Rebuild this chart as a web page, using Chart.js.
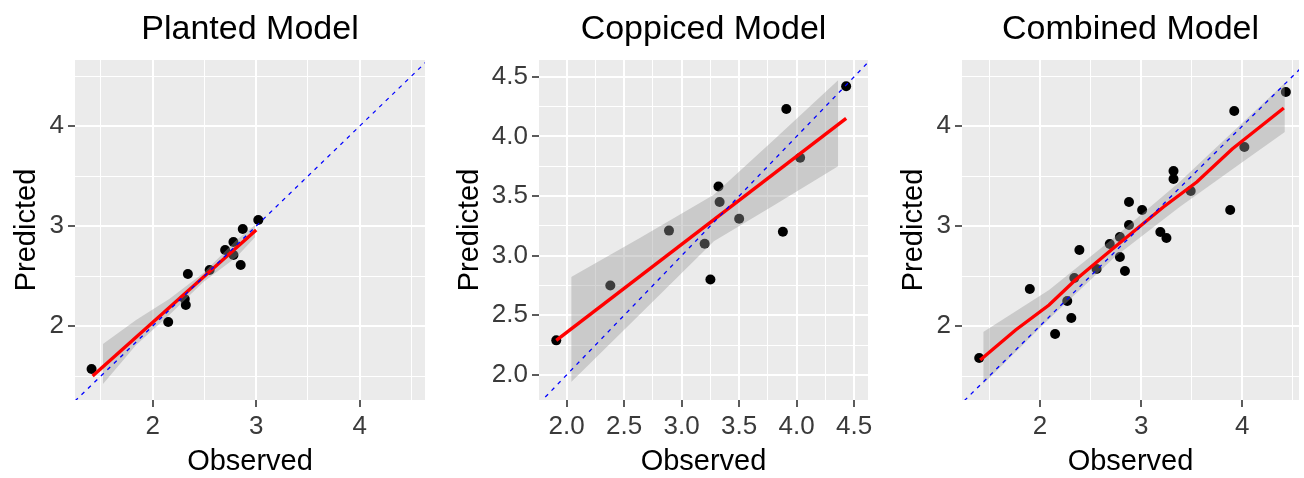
<!DOCTYPE html>
<html>
<head>
<meta charset="utf-8">
<script src="https://cdn.jsdelivr.net/npm/chart.js@4.4.1/dist/chart.umd.min.js"></script>
<style>
  body { margin: 0; background: #fff; }
  .panel { position: absolute; top: 0; }
  canvas { display: block; }
</style>
</head>
<body>
<div class="panel" style="left:0px"><canvas id="planted" width="443" height="478"></canvas></div>
<div class="panel" style="left:443px"><canvas id="coppiced" width="444" height="478"></canvas></div>
<div class="panel" style="left:887px"><canvas id="combined" width="417" height="478"></canvas></div>
<script>
// values
const plantedObserved  = [1.41, 2.15, 2.31, 2.32, 2.34, 2.55, 2.70, 2.78, 2.78, 2.85, 2.87, 3.02];
const plantedPredicted = [1.57, 2.04, 2.27, 2.21, 2.52, 2.56, 2.76, 2.84, 2.71, 2.61, 2.97, 3.06];
const plantedFitX = [1.42, 3.00];
const plantedFitY = [1.50, 2.96];
const plantedBandX    = [1.52, 1.84, 2.16, 2.49, 2.81, 2.99];
const plantedBandLow  = [1.42, 1.81, 2.11, 2.44, 2.69, 2.89];
const plantedBandHigh = [1.82, 2.06, 2.27, 2.53, 2.86, 3.01];

const coppicedObserved  = [1.91, 2.38, 2.89, 3.20, 3.25, 3.32, 3.33, 3.50, 3.88, 3.91, 4.03, 4.43];
const coppicedPredicted = [2.29, 2.75, 3.21, 3.10, 2.80, 3.58, 3.45, 3.31, 3.20, 4.23, 3.82, 4.42];
const coppicedFitX = [1.91, 4.43];
const coppicedFitY = [2.29, 4.15];
const coppicedBandX    = [2.04, 2.64, 3.28, 3.80, 4.36];
const coppicedBandLow  = [1.94, 2.51, 3.12, 3.42, 3.75];
const coppicedBandHigh = [2.82, 3.15, 3.51, 3.97, 4.47];

const combinedObserved  = [1.40, 1.90, 2.15, 2.27, 2.31, 2.34, 2.39, 2.56, 2.69, 2.79, 2.79, 2.84,
                           2.88, 2.88, 3.01, 3.19, 3.25, 3.32, 3.32, 3.49, 3.88, 3.92, 4.02, 4.43];
const combinedPredicted = [1.68, 2.37, 1.92, 2.25, 2.08, 2.48, 2.76, 2.57, 2.82, 2.89, 2.69, 2.55,
                           3.01, 3.24, 3.16, 2.94, 2.88, 3.55, 3.47, 3.35, 3.16, 4.15, 3.79, 4.34];
const combinedFitX = [1.41, 1.76, 2.09, 2.35, 2.74, 3.22, 3.55, 3.90, 4.41];
const combinedFitY = [1.66, 1.96, 2.21, 2.46, 2.79, 3.19, 3.44, 3.77, 4.18];
const combinedBandX    = [1.44, 2.09, 2.74, 3.38, 4.03, 4.42];
const combinedBandLow  = [1.42, 2.07, 2.69, 3.19, 3.66, 3.94];
const combinedBandHigh = [1.94, 2.36, 2.89, 3.44, 4.06, 4.43];

const identityLine = [1, 5];

// tick labels and axis limits
const wholeTicks = [2, 3, 4];
const wholeMinorTicks = [1.5, 2.5, 3.5, 4.5];
const halfTicks = [2.0, 2.5, 3.0, 3.5, 4.0, 4.5];
const halfMinorTicks = [1.75, 2.25, 2.75, 3.25, 3.75, 4.25];
const plantedLimitsX = [1.25, 4.63], plantedLimitsY = [1.26, 4.66];
const coppicedLimitsX = [1.76, 4.62], coppicedLimitsY = [1.79, 4.64];
const combinedLimitsX = [1.23, 4.56], combinedLimitsY = [1.26, 4.66];

Chart.defaults.font.family = '"Liberation Sans", Arial, sans-serif';

const zip = (xs, ys) => xs.map((x, i) => ({ x, y: ys[i] }));

const panelBackground = {
    id: 'panelBackground',
    beforeDraw(chart) {
        const { ctx, chartArea: a } = chart;
        ctx.save();
        ctx.fillStyle = '#EBEBEB';
        ctx.fillRect(a.left, a.top, a.right - a.left, a.bottom - a.top);
        ctx.restore();
    }
};

function axis(limits, major, minor, digits, title, fitSize, horizontal) {
    const isMajor = v => major.includes(v);
    return {
        type: 'linear',
        min: limits[0],
        max: limits[1],
        afterBuildTicks: scale => {
            scale.ticks = major.concat(minor)
                .filter(v => v >= limits[0] && v <= limits[1])
                .sort((a, b) => a - b)
                .map(value => ({ value }));
        },
        afterFit: scale => {
            if (horizontal) scale.height = fitSize; else scale.width = fitSize;
        },
        border: { display: false },
        grid: {
            color: '#FFFFFF',
            lineWidth: c => (c.tick && isMajor(c.tick.value) ? 2 : 1),
            tickColor: c => (c.tick && isMajor(c.tick.value) ? '#333333' : 'rgba(0,0,0,0)'),
            tickLength: 7,
            tickWidth: 1.6
        },
        ticks: {
            autoSkip: false,
            maxRotation: 0,
            color: '#3A3A3A',
            font: { size: 26 },
            padding: horizontal ? 4 : 4,
            callback: v => (isMajor(v) ? v.toFixed(digits) : '')
        },
        title: {
            display: true,
            text: title,
            color: '#000000',
            font: { size: 29, lineHeight: 1.1 },
            padding: horizontal ? { top: 0, bottom: 0 } : { top: 11, bottom: 0 }
        }
    };
}

function makePanel(id, p) {
    const ctx = document.getElementById(id).getContext('2d');
    return new Chart(ctx, {
        type: 'scatter',
        data: {
            datasets: [
                {
                    type: 'line', data: zip(identityLine, identityLine),
                    borderColor: '#0000FF', borderWidth: 1.3, borderDash: [4, 5],
                    pointRadius: 0, fill: false, order: 0
                },
                {
                    type: 'line', data: zip(p.fitX, p.fitY),
                    borderColor: '#FF0000', borderWidth: 3.4,
                    pointRadius: 0, fill: false, order: 1
                },
                {
                    type: 'line', data: zip(p.bandX, p.bandHigh),
                    borderWidth: 0, borderColor: 'rgba(0,0,0,0)', pointRadius: 0,
                    fill: '+1', backgroundColor: 'rgba(153,153,153,0.4)', order: 2
                },
                {
                    type: 'line', data: zip(p.bandX, p.bandLow),
                    borderWidth: 0, borderColor: 'rgba(0,0,0,0)', pointRadius: 0,
                    fill: false, order: 2
                },
                {
                    type: 'scatter', data: zip(p.observed, p.predicted),
                    backgroundColor: '#000000', borderWidth: 0,
                    pointRadius: 5, order: 3
                }
            ]
        },
        options: {
            responsive: false,
            animation: false,
            events: [],
            layout: { padding: { left: 0, right: p.rightPad, top: 0, bottom: 0 } },
            plugins: {
                legend: { display: false },
                tooltip: { enabled: false },
                title: {
                    display: true,
                    text: p.title,
                    fullSize: false,
                    color: '#000000',
                    font: { size: 34, weight: 'normal', lineHeight: 1.2 },
                    padding: { top: 9, bottom: 10.2 }
                }
            },
            scales: {
                x: axis(p.limitsX, p.major, p.minor, p.digits, 'Observed', 78, true),
                y: axis(p.limitsY, p.major, p.minor, p.digits, 'Predicted', p.yWidth, false)
            }
        },
        plugins: [panelBackground]
    });
}

makePanel('planted', {
    title: 'Planted Model',
    observed: plantedObserved, predicted: plantedPredicted,
    fitX: plantedFitX, fitY: plantedFitY,
    bandX: plantedBandX, bandLow: plantedBandLow, bandHigh: plantedBandHigh,
    limitsX: plantedLimitsX, limitsY: plantedLimitsY,
    major: wholeTicks, minor: wholeMinorTicks, digits: 0,
    yWidth: 75, rightPad: 18
});

makePanel('coppiced', {
    title: 'Coppiced Model',
    observed: coppicedObserved, predicted: coppicedPredicted,
    fitX: coppicedFitX, fitY: coppicedFitY,
    bandX: coppicedBandX, bandLow: coppicedBandLow, bandHigh: coppicedBandHigh,
    limitsX: coppicedLimitsX, limitsY: coppicedLimitsY,
    major: halfTicks, minor: halfMinorTicks, digits: 1,
    yWidth: 96, rightPad: 19
});

makePanel('combined', {
    title: 'Combined Model',
    observed: combinedObserved, predicted: combinedPredicted,
    fitX: combinedFitX, fitY: combinedFitY,
    bandX: combinedBandX, bandLow: combinedBandLow, bandHigh: combinedBandHigh,
    limitsX: combinedLimitsX, limitsY: combinedLimitsY,
    major: wholeTicks, minor: wholeMinorTicks, digits: 0,
    yWidth: 75, rightPad: 0
});
</script>
</body>
</html>
